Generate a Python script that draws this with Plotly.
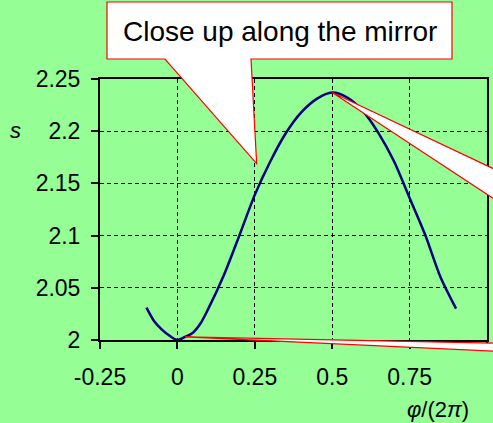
import plotly.graph_objects as go

# phase (in units of 2*pi) and separation s along the mirror
phase = [-0.100, -0.075, -0.050, -0.025, 0.000, 0.025, 0.050, 0.075, 0.100, 0.150,
         0.200, 0.250, 0.300, 0.350, 0.400, 0.450, 0.500, 0.550, 0.600, 0.650,
         0.700, 0.750, 0.800, 0.850, 0.900]
sep = [2.031, 2.018, 2.010, 2.004, 2.000, 2.003, 2.007, 2.016, 2.030, 2.062,
       2.100, 2.139, 2.171, 2.198, 2.218, 2.231, 2.237, 2.232, 2.219, 2.198,
       2.171, 2.136, 2.101, 2.060, 2.030]

x_ticks = [-0.25, 0, 0.25, 0.5, 0.75, 1]
x_labels = ["-0.25", "0", "0.25", "0.5", "0.75", "1"]
y_ticks = [2, 2.05, 2.1, 2.15, 2.2, 2.25]
y_labels = ["2", "2.05", "2.1", "2.15", "2.2", "2.25"]

W, H = 493, 423
ML, MR, MT, MB = 100, 6, 79, 83
PW, PH = W - ML - MR, H - MT - MB
XR = (-0.25, 1.0)
YR = (2.0, 2.25)

BG = "#95FF95"
FONT = "Arial, Liberation Sans, sans-serif"


def px_paper(px, py):
    """pixel position on the page -> paper coordinates"""
    return (px - ML) / PW, (MT + PH - py) / PH


def data_px(x, y):
    """data position -> pixel position on the page"""
    px = ML + (x - XR[0]) / (XR[1] - XR[0]) * PW
    py = MT + PH - (y - YR[0]) / (YR[1] - YR[0]) * PH
    return px, py


def path_from_px(points):
    pts = [px_paper(*p) for p in points]
    return "M " + " L ".join(f"{a:.5f},{b:.5f}" for a, b in pts) + " Z"


fig = go.Figure()
fig.add_trace(go.Scatter(
    x=phase, y=sep, mode="lines",
    line=dict(color="#000080", width=2.5, shape="spline", smoothing=0.8),
    hoverinfo="skip", showlegend=False,
))

# speech-bubble style callouts
tip1 = data_px(0.256, 2.169)
bubble = [(107, 2), (452, 2), (452, 59), (251, 59), tip1, (165, 59), (107, 59)]

peak_i = sep.index(max(sep))
tip2 = data_px(phase[peak_i], sep[peak_i])
tail_peak = [tip2, (510, 176.5), (510, 209.5)]

tip3 = data_px(0.025, 2.003)
tail_min = [tip3, (510, 343.5), (510, 352.0)]

shapes = []
for pts in (bubble, tail_peak, tail_min):
    shapes.append(dict(
        type="path", path=path_from_px(pts), xref="paper", yref="paper",
        fillcolor="white", line=dict(color="#FF0000", width=1.2), layer="above",
    ))

annotations = [
    dict(text="Close up along the mirror", x=px_paper(280, 0)[0], y=px_paper(0, 31)[1],
         xref="paper", yref="paper", showarrow=False, xanchor="center", yanchor="middle",
         font=dict(family=FONT, size=28, color="black")),
    dict(text="<i>s</i>", x=px_paper(15, 0)[0], y=px_paper(0, 130)[1],
         xref="paper", yref="paper", showarrow=False, xanchor="center", yanchor="middle",
         font=dict(family=FONT, size=22, color="black")),
    dict(text="<i>φ</i>/(2<i>π</i>)", x=px_paper(438, 0)[0], y=px_paper(0, 409)[1],
         xref="paper", yref="paper", showarrow=False, xanchor="center", yanchor="middle",
         font=dict(family=FONT, size=22, color="black")),
]

axis_common = dict(
    showline=True, linecolor="black", linewidth=2, mirror=True,
    ticks="outside", ticklen=7, tickwidth=1.5, tickcolor="black",
    showgrid=True, gridcolor="black", gridwidth=1, griddash="4px,3px",
    zeroline=False,
    tickfont=dict(family=FONT, size=23, color="black"),
)

fig.update_xaxes(range=list(XR), tickvals=x_ticks, ticktext=x_labels,
                 ticklabelstandoff=8, **axis_common)
fig.update_yaxes(range=list(YR), tickvals=y_ticks, ticktext=y_labels,
                 ticklabelstandoff=6, **axis_common)

fig.update_layout(
    width=W, height=H,
    margin=dict(l=ML, r=MR, t=MT, b=MB, autoexpand=False),
    paper_bgcolor=BG, plot_bgcolor=BG,
    shapes=shapes, annotations=annotations,
    font=dict(family=FONT),
)

fig.write_html("out.html", config={"displayModeBar": False})
